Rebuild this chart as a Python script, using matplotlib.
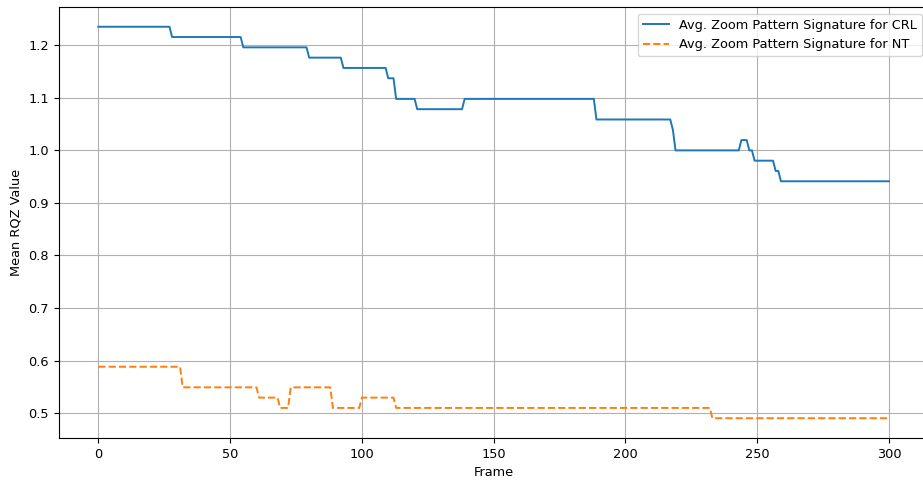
import numpy as np
import matplotlib
matplotlib.use("Agg")
import matplotlib.pyplot as plt

# 원본 이미지가 약간 축소된 크기라서 글자/선 크기도 맞춰줌
plt.rcParams['font.size'] = 9.3
plt.rcParams['lines.linewidth'] = 1.4

# 프레임 범위
n_frames = 301
frames = np.arange(n_frames)

# CRL 평균 RQZ 값: 값이 바뀌는 프레임과 그 구간의 값
crl_starts = [0, 28, 55, 80, 93, 110, 113, 121, 139, 189, 218, 219, 244, 247, 249, 257, 259]
crl_levels = [1.2353, 1.2157, 1.1961, 1.1765, 1.1569, 1.1373, 1.0980, 1.0784, 1.0980,
              1.0588, 1.0392, 1.0000, 1.0196, 1.0000, 0.9804, 0.9608, 0.9412]

# NT 평균 RQZ 값
nt_starts = [0, 32, 61, 69, 73, 89, 100, 113, 233]
nt_levels = [0.5882, 0.5490, 0.5294, 0.5098, 0.5490, 0.5098, 0.5294, 0.5098, 0.4902]


def build_series(starts, levels):
    # 구간별 값을 프레임마다 채우기
    y = np.zeros(n_frames)
    bounds = list(starts) + [n_frames]
    for i, v in enumerate(levels):
        y[bounds[i]:bounds[i + 1]] = v
    return y


crl = build_series(crl_starts, crl_levels)
nt = build_series(nt_starts, nt_levels)

fig = plt.figure(figsize=(9.23, 4.82), dpi=100)
ax = fig.add_axes([0.0637, 0.0917, 0.9423, 0.8934])

ax.plot(frames, crl, label="Avg. Zoom Pattern Signature for CRL")
ax.plot(frames, nt, linestyle="--", label="Avg. Zoom Pattern Signature for NT")

ax.set_xlabel("Frame")
ax.set_ylabel("Mean RQZ Value")
ax.legend(loc="upper right")
ax.grid(True)

fig.savefig("out.png", dpi=100)
